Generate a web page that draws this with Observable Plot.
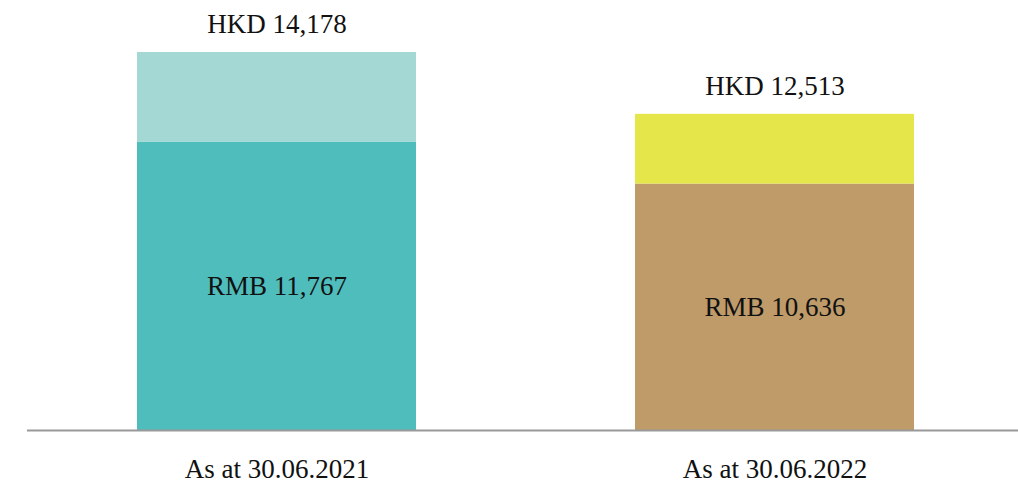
<!DOCTYPE html>
<html>
<head>
<meta charset="utf-8">
<script src="https://cdn.jsdelivr.net/npm/d3@7"></script>
<script src="https://cdn.jsdelivr.net/npm/@observablehq/plot@0.6"></script>
<style>
  html, body { margin: 0; padding: 0; background: #fff; }
  #chart svg { display: block; }
</style>
</head>
<body>
<div id="chart"></div>
<script>
const categories = ["As at 30.06.2021", "As at 30.06.2022"];
const rmbValues = [11767, 10636];
const hkdValues = [14178, 12513];
const axisBase = 4000;
const rmbColors = ["#50BDBD", "#BE9B69"];
const hkdColors = ["#A4D8D4", "#E5E64A"];

const data = categories.map((c, i) => ({
  cat: c, rmb: rmbValues[i], hkd: hkdValues[i],
  rmbColor: rmbColors[i], hkdColor: hkdColors[i],
  rmbLabel: "RMB " + d3.format(",")(rmbValues[i]),
  hkdLabel: "HKD " + d3.format(",")(hkdValues[i])
}));

const font = "'Liberation Serif', serif";

const chart = Plot.plot({
  width: 1018,
  height: 483,
  marginLeft: 27,
  marginRight: 0,
  marginTop: 52,
  marginBottom: 53,
  style: { fontFamily: font, fontSize: "27px", color: "#111", background: "#fff" },
  x: { domain: categories, range: [27, 1024], paddingInner: 0.44, paddingOuter: 0.22, label: null },
  y: { domain: [axisBase, 14178], axis: null },
  marks: [
    Plot.rectY(data, { x: "cat", y1: axisBase, y2: "rmb", fill: "rmbColor" }),
    Plot.rectY(data, { x: "cat", y1: "rmb", y2: "hkd", fill: "hkdColor" }),
    Plot.ruleY([axisBase], { stroke: "#999", strokeWidth: 2 }),
    Plot.text(data, { x: "cat", y: d => (d.rmb + axisBase) / 2, text: "rmbLabel", fill: "#111", fontSize: 27 }),
    Plot.text(data, { x: "cat", y: "hkd", dy: -28, text: "hkdLabel", fill: "#111", fontSize: 27 }),
    Plot.axisX({ tickSize: 0, tickPadding: 28, label: null, fontSize: 27, fill: "#111" })
  ]
});
document.getElementById("chart").appendChild(chart);
</script>
</body>
</html>
